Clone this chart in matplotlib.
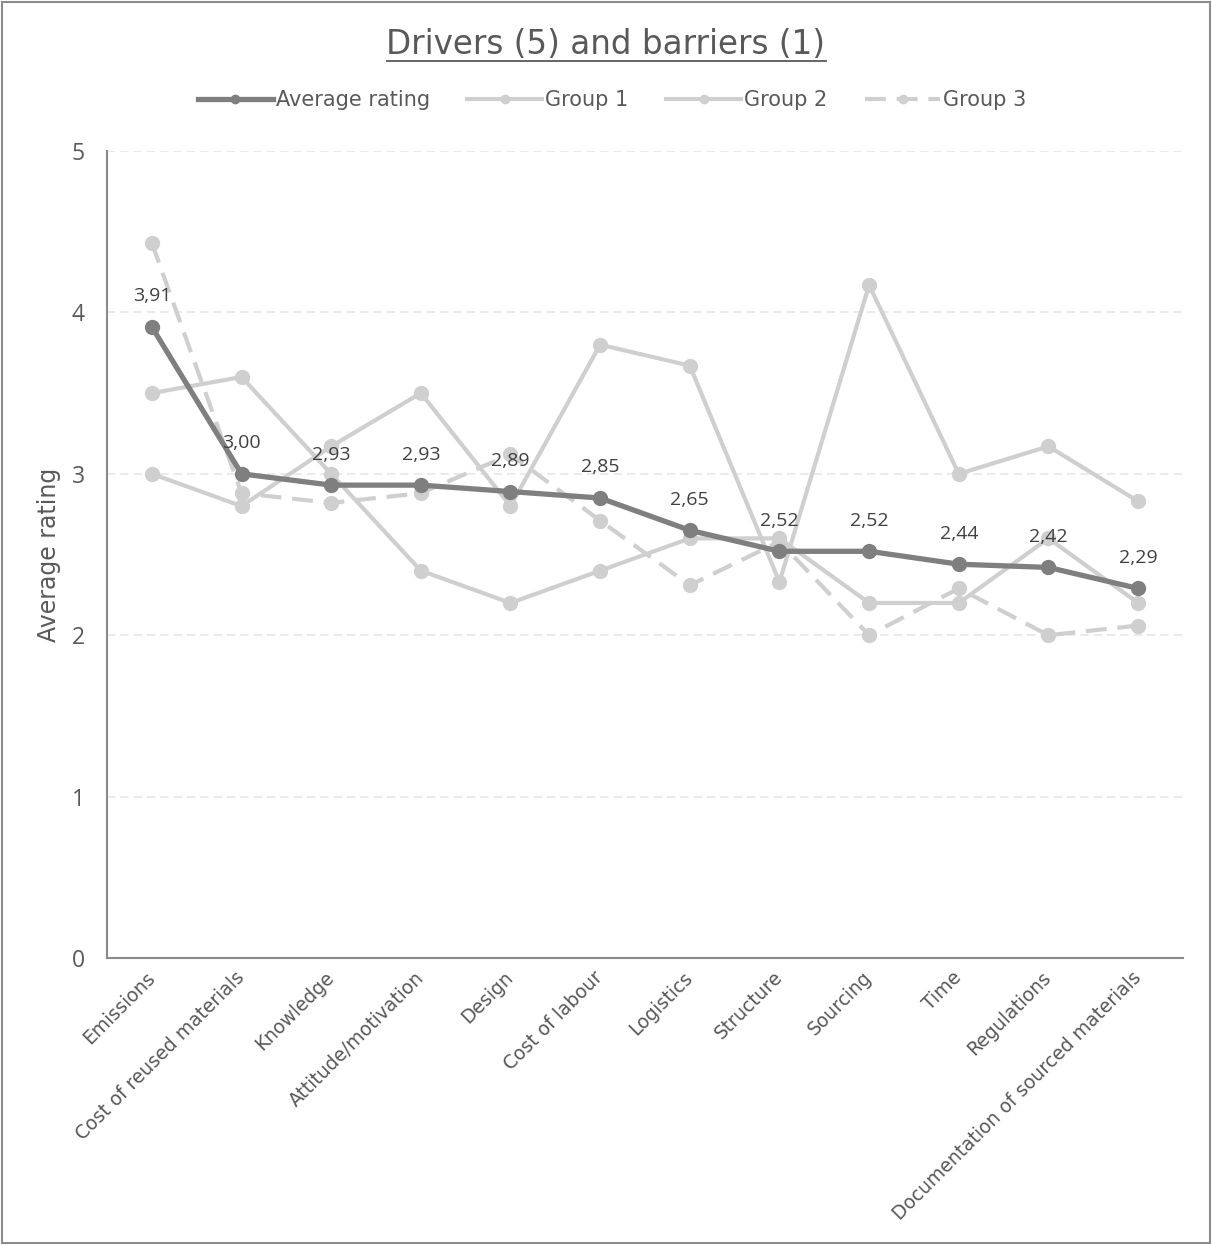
import matplotlib
matplotlib.use("Agg")
import matplotlib.pyplot as plt
from matplotlib.lines import Line2D
from matplotlib.patches import Rectangle

categories = ["Emissions", "Cost of reused materials", "Knowledge", "Attitude/motivation",
              "Design", "Cost of labour", "Logistics", "Structure", "Sourcing", "Time",
              "Regulations", "Documentation of sourced materials"]
average_rating = [3.91, 3.00, 2.93, 2.93, 2.89, 2.85, 2.65, 2.52, 2.52, 2.44, 2.42, 2.29]
group_1 = [3.5, 3.6, 3.0, 2.4, 2.2, 2.4, 2.6, 2.6, 2.2, 2.2, 2.6, 2.2]
group_2 = [3.0, 2.8, 3.17, 3.5, 2.8, 3.8, 3.67, 2.33, 4.17, 3.0, 3.17, 2.83]
group_3 = [4.43, 2.88, 2.82, 2.88, 3.12, 2.71, 2.31, 2.58, 2.0, 2.29, 2.0, 2.06]
y_ticks = [0, 1, 2, 3, 4, 5]

plt.rcParams["font.family"] = ["DejaVu Sans"]
TEXT = "#595959"
DARK = "#7f7f7f"
LIGHT = "#d0cfcf"

fig = plt.figure(figsize=(12.12, 12.45), dpi=100)
ax = fig.add_axes([0.0883, 0.2305, 0.8877, 0.6482])

x = list(range(len(categories)))
ax.plot(x, group_1, color=LIGHT, lw=3.0, marker="o", ms=10, label="Group 1", zorder=2)
ax.plot(x, group_2, color=LIGHT, lw=3.0, marker="o", ms=10, label="Group 2", zorder=2)
ax.plot(x, group_3, color=LIGHT, lw=3.0, marker="o", ms=10, ls=(0, (5, 2.6)),
        label="Group 3", zorder=2)
ax.plot(x, average_rating, color=DARK, lw=3.8, marker="o", ms=10,
        label="Average rating", zorder=3)

for xi, v in zip(x, average_rating):
    ax.annotate(f"{v:.2f}".replace(".", ","), (xi, v), xytext=(0, 22),
                textcoords="offset points", ha="center", va="center",
                fontsize=14, color="#404040", family=["Open Sans", "DejaVu Sans"],
                zorder=4)

ax.set_xlim(-0.5, len(categories) - 0.5)
ax.set_ylim(0, 5)
ax.set_yticks(y_ticks)
ax.set_xticks(x)
ax.set_xticklabels(categories, rotation=45, ha="right", va="center",
                   rotation_mode="anchor", fontsize=13.5, color=TEXT)
ax.tick_params(axis="x", length=0, pad=12)
ax.tick_params(axis="y", length=0, pad=16, labelsize=16.5, labelcolor=TEXT)
for t in ax.get_yticklabels():
    t.set_family(["Open Sans", "DejaVu Sans"])
ax.grid(axis="y", color="#e6e6e6", ls=(0, (5, 3)), lw=1.2)
ax.set_axisbelow(True)
for side in ("top", "right"):
    ax.spines[side].set_visible(False)
for side in ("left", "bottom"):
    ax.spines[side].set_color("#8a8a8a")
    ax.spines[side].set_linewidth(1.5)
ax.set_ylabel("Average rating", fontsize=17, color=TEXT, labelpad=8)

handles, labels = ax.get_legend_handles_labels()
order = [3, 0, 1, 2]
leg = fig.legend([handles[i] for i in order], [labels[i] for i in order],
                 loc="center", bbox_to_anchor=(0.505, 1 - 100 / 1245), ncol=4,
                 frameon=False, fontsize=15, handlelength=3.6, handletextpad=0.15,
                 columnspacing=1.8, markerscale=0.6)
for t in leg.get_texts():
    t.set_color(TEXT)

title = fig.text(0.5, 1 - 45 / 1245, "Drivers (5) and barriers (1)", ha="center",
                 va="center", fontsize=23.5, color=TEXT)

# underline the title
fig.canvas.draw()
bb = title.get_window_extent().transformed(fig.transFigure.inverted())
uy = bb.y0 + 0.0005
fig.add_artist(Line2D([bb.x0, bb.x1], [uy, uy], transform=fig.transFigure,
                      color=TEXT, lw=1.3))

# outer frame
fig.add_artist(Rectangle((0.002, 0.002), 0.996, 0.996, transform=fig.transFigure,
                         fill=False, edgecolor="#8c8c8c", lw=1.5))

fig.savefig("out.png", dpi=100)
